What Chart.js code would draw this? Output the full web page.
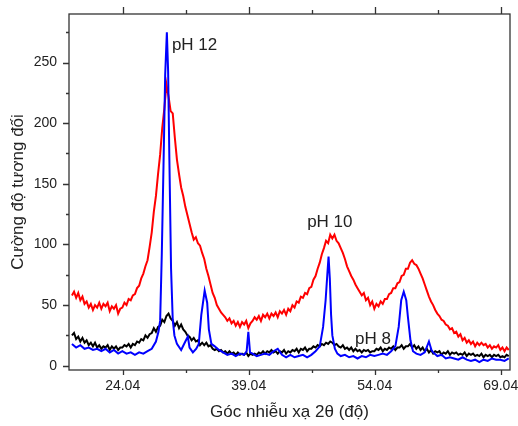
<!DOCTYPE html>
<html>
<head>
<meta charset="utf-8">
<script src="https://cdn.jsdelivr.net/npm/chart.js@4"></script>
<style>
  body { margin: 0; background: #fff; }
</style>
</head>
<body>
<canvas id="xrd" width="518" height="426"></canvas>
<script>
// 2θ grid (0.25° steps) shared by the pH 10 and pH 8 traces
const angles = [
    18, 18.25, 18.5, 18.75, 19, 19.25, 19.5, 19.75, 20, 20.25, 20.5, 20.75,
    21, 21.25, 21.5, 21.75, 22, 22.25, 22.5, 22.75, 23, 23.25, 23.5, 23.75,
    24, 24.25, 24.5, 24.75, 25, 25.25, 25.5, 25.75, 26, 26.25, 26.5, 26.75,
    27, 27.25, 27.5, 27.75, 28, 28.25, 28.5, 28.75, 29, 29.25, 29.5, 29.75,
    30, 30.25, 30.5, 30.75, 31, 31.25, 31.5, 31.75, 32, 32.25, 32.5, 32.75,
    33, 33.25, 33.5, 33.75, 34, 34.25, 34.5, 34.75, 35, 35.25, 35.5, 35.75,
    36, 36.25, 36.5, 36.75, 37, 37.25, 37.5, 37.75, 38, 38.25, 38.5, 38.75,
    39, 39.25, 39.5, 39.75, 40, 40.25, 40.5, 40.75, 41, 41.25, 41.5, 41.75,
    42, 42.25, 42.5, 42.75, 43, 43.25, 43.5, 43.75, 44, 44.25, 44.5, 44.75,
    45, 45.25, 45.5, 45.75, 46, 46.25, 46.5, 46.75, 47, 47.25, 47.5, 47.75,
    48, 48.25, 48.5, 48.75, 49, 49.25, 49.5, 49.75, 50, 50.25, 50.5, 50.75,
    51, 51.25, 51.5, 51.75, 52, 52.25, 52.5, 52.75, 53, 53.25, 53.5, 53.75,
    54, 54.25, 54.5, 54.75, 55, 55.25, 55.5, 55.75, 56, 56.25, 56.5, 56.75,
    57, 57.25, 57.5, 57.75, 58, 58.25, 58.5, 58.75, 59, 59.25, 59.5, 59.75,
    60, 60.25, 60.5, 60.75, 61, 61.25, 61.5, 61.75, 62, 62.25, 62.5, 62.75,
    63, 63.25, 63.5, 63.75, 64, 64.25, 64.5, 64.75, 65, 65.25, 65.5, 65.75,
    66, 66.25, 66.5, 66.75, 67, 67.25, 67.5, 67.75, 68, 68.25, 68.5, 68.75,
    69, 69.25, 69.5, 69.75, 70
];

const ph10 = [
    58, 61, 56, 60, 54, 57, 51, 53, 48, 51, 46, 50,
    48, 52, 47, 51, 49, 52, 45, 49, 47, 50, 43, 47,
    48, 52, 50, 55, 54, 58, 59, 64, 66, 72, 76, 82,
    87, 98, 110, 127, 140, 158, 174, 196, 212, 232, 222, 210,
    208, 188, 170, 158, 147, 140, 131, 124, 117, 110, 104, 106,
    101, 99, 93, 88, 80, 74, 67, 60, 56, 50, 47, 44,
    42, 40, 37, 39, 35, 37, 33, 36, 32, 36, 34, 37,
    31, 35, 37, 40, 38, 41, 37, 42, 40, 43, 39, 43,
    41, 44, 40, 45, 43, 46, 42, 47, 45, 50, 48, 53,
    52, 57, 56, 60, 59, 64, 65, 71, 74, 80, 85, 92,
    97, 103, 101, 108, 105, 108, 103, 101, 97, 93, 88, 82,
    78, 74, 71, 67, 64, 61, 58, 60, 54, 56, 50, 53,
    47, 51, 49, 53, 51, 55, 55, 59, 60, 64, 64, 68,
    69, 74, 75, 80, 80, 85, 87, 84, 83, 80, 76, 72,
    67, 62, 57, 53, 50, 46, 43, 41, 38, 37, 34, 33,
    30, 31, 27, 28, 24, 26, 21, 23, 19, 21, 18, 20,
    16, 19, 17, 19, 17, 18, 15, 17, 14, 16, 15, 17,
    13, 15, 12, 15, 13
];

const ph8 = [
    25, 27, 22, 24, 20, 23, 19, 21, 17, 19, 16, 19,
    15, 17, 14, 16, 15, 17, 13, 16, 14, 16, 13, 15,
    15, 17, 16, 18, 15, 18, 17, 20, 19, 22, 21, 25,
    23, 26, 27, 31, 28, 32, 33, 38, 36, 41, 43, 39,
    37, 33, 36, 31, 34, 30, 28, 25, 24, 21, 23, 20,
    21, 17, 19, 17, 19, 16, 17, 14, 13, 14, 12, 13,
    11, 12, 10, 12, 10, 11, 9, 11, 9, 10, 9, 11,
    8, 10, 9, 10, 9, 11, 10, 12, 10, 12, 11, 13,
    11, 12, 10, 12, 11, 13, 10, 12, 11, 13, 12, 14,
    11, 14, 13, 15, 12, 14, 14, 16, 15, 17, 16, 18,
    17, 19, 18, 20, 19, 17, 18, 16, 15, 17, 14, 15,
    13, 15, 12, 14, 12, 13, 11, 13, 12, 13, 11, 12,
    12, 14, 13, 15, 12, 14, 13, 15, 14, 16, 13, 15,
    15, 17, 14, 16, 16, 18, 15, 17, 14, 16, 13, 15,
    12, 14, 11, 13, 10, 12, 11, 12, 9, 11, 10, 12,
    9, 11, 10, 11, 9, 10, 9, 11, 8, 10, 9, 10,
    8, 9, 8, 10, 7, 9, 8, 9, 7, 9, 8, 9,
    7, 8, 7, 9, 8
];

// pH 12 has sharp peaks, so it keeps its own denser angle list
const ph12Angles = [18, 18.5, 19, 19.5, 20, 20.5, 21, 21.5, 22, 22.5, 23, 23.5, 24, 24.5,
    25, 25.5, 26, 26.5, 27, 27.5, 28, 28.3, 28.5, 28.7, 28.9, 29.1, 29.3, 29.45, 29.6, 29.8,
    30, 30.2, 30.5, 31, 31.5, 31.8, 32, 32.4, 32.8, 33.1, 33.4, 33.8, 34.1, 34.3, 34.6, 35,
    35.5, 36, 36.5, 37, 37.5, 38, 38.5, 38.8, 39, 39.2, 39.5, 40, 40.5, 41, 41.5, 42, 42.5,
    43, 43.5, 44, 44.5, 45, 45.5, 46, 46.5, 47, 47.5, 47.9, 48.2, 48.4, 48.55, 48.7, 48.85,
    49, 49.3, 49.6, 50, 50.5, 51, 51.5, 52, 52.5, 53, 53.5, 54, 54.5, 55, 55.5, 56, 56.5,
    56.9, 57.2, 57.5, 57.8, 58, 58.3, 58.6, 59, 59.5, 60, 60.5, 60.8, 61, 61.5, 62, 62.5,
    63, 63.5, 64, 64.5, 65, 65.5, 66, 66.5, 67, 67.5, 68, 68.5, 69, 69.5, 70];

const ph12 = [18, 15, 17, 14, 15, 13, 14, 12, 14, 11, 13, 10, 12, 10,
    11, 9, 11, 10, 12, 14, 20, 28, 37, 93, 165, 240, 275, 243, 170, 80,
    38, 25, 18, 13, 20, 24, 15, 11, 14, 18, 42, 62, 52, 30, 18, 16,
    13, 11, 9, 10, 8, 10, 9, 12, 28, 11, 10, 8, 9, 10, 9, 12, 14,
    9, 7, 9, 7, 8, 9, 7, 9, 12, 16, 32, 54, 75, 90, 72, 42,
    25, 14, 10, 8, 9, 7, 8, 6, 8, 7, 9, 8, 9, 10, 9, 12, 16,
    32, 54, 61, 54, 40, 21, 12, 10, 9, 11, 20, 13, 11, 8, 9, 6,
    7, 6, 5, 7, 5, 4, 5, 3, 5, 4, 6, 5, 5, 4, 6];

const xMajor = [24.04, 39.04, 54.04, 69.04];
const xMinor = [31.54, 46.54, 61.54];
const yMajor = [0, 50, 100, 150, 200, 250];
const yMinor = [25, 75, 125, 175, 225, 275];

const curveLabels = [
    { text: 'pH 12', x: 29.9, y: 264 },
    { text: 'pH 10', x: 46.0, y: 118 },
    { text: 'pH 8', x: 51.7, y: 22 }
];

const fontFamily = '"Liberation Sans", Arial, sans-serif';

function toPoints(xs, ys) {
    return xs.map((x, i) => ({ x: x, y: ys[i] }));
}

// frame, outward ticks and the curve labels
const framePlugin = {
    id: 'frame',
    afterDraw(chart) {
        const ctx = chart.ctx;
        const a = chart.chartArea;
        const xs = chart.scales.x, ys = chart.scales.y;
        ctx.save();
        ctx.strokeStyle = '#333';
        ctx.lineWidth = 1.3;
        ctx.strokeRect(a.left, a.top, a.right - a.left, a.bottom - a.top);

        ctx.beginPath();
        xMajor.forEach(v => {
            const p = Math.round(xs.getPixelForValue(v)) + 0.5;
            ctx.moveTo(p, a.bottom); ctx.lineTo(p, a.bottom + 5);
            ctx.moveTo(p, a.top); ctx.lineTo(p, a.top - 7);
        });
        xMinor.forEach(v => {
            const p = Math.round(xs.getPixelForValue(v)) + 0.5;
            ctx.moveTo(p, a.bottom); ctx.lineTo(p, a.bottom + 3);
            ctx.moveTo(p, a.top); ctx.lineTo(p, a.top - 4);
        });
        yMajor.forEach(v => {
            const p = Math.round(ys.getPixelForValue(v)) + 0.5;
            ctx.moveTo(a.left, p); ctx.lineTo(a.left - 6, p);
        });
        yMinor.forEach(v => {
            const p = Math.round(ys.getPixelForValue(v)) + 0.5;
            ctx.moveTo(a.left, p); ctx.lineTo(a.left - 3, p);
        });
        ctx.stroke();

        ctx.fillStyle = '#222';
        ctx.font = '17px ' + fontFamily;
        ctx.textAlign = 'left';
        ctx.textBaseline = 'middle';
        curveLabels.forEach(l => {
            ctx.fillText(l.text, xs.getPixelForValue(l.x), ys.getPixelForValue(l.y));
        });
        ctx.restore();
    }
};

new Chart(document.getElementById('xrd').getContext('2d'), {
    type: 'line',
    data: {
        datasets: [
            { label: 'pH 12', data: toPoints(ph12Angles, ph12), borderColor: '#0000ff' },
            { label: 'pH 8', data: toPoints(angles, ph8), borderColor: '#000000' },
            { label: 'pH 10', data: toPoints(angles, ph10), borderColor: '#ff0000' }
        ]
    },
    options: {
        responsive: false,
        animation: false,
        devicePixelRatio: 1,
        datasets: {
            line: { borderWidth: 2, pointRadius: 0, tension: 0, fill: false }
        },
        layout: { padding: { left: 0, right: 8, top: 14, bottom: 0 } },
        plugins: { legend: { display: false }, tooltip: { enabled: false } },
        scales: {
            x: {
                type: 'linear',
                min: 17.65,
                max: 70.15,
                grid: { display: false, drawTicks: false },
                border: { display: false },
                afterBuildTicks: s => { s.ticks = xMajor.map(v => ({ value: v })); },
                afterFit: s => { s.height = 56; s.paddingLeft = 0; s.paddingRight = 0; },
                ticks: {
                    padding: 8,
                    color: '#222',
                    font: { family: fontFamily, size: 14 },
                    maxRotation: 0,
                    callback: v => v.toFixed(2)
                },
                title: {
                    display: true,
                    text: 'Góc nhiễu xạ 2θ (độ)',
                    color: '#222',
                    font: { family: fontFamily, size: 17 },
                    padding: { top: 0, bottom: 3 }
                }
            },
            y: {
                min: -3.5,
                max: 290,
                grid: { display: false, drawTicks: false },
                border: { display: false },
                afterBuildTicks: s => { s.ticks = yMajor.map(v => ({ value: v })); },
                afterFit: s => { s.width = 69; s.paddingTop = 0; s.paddingBottom = 0; },
                ticks: {
                    padding: 12,
                    color: '#222',
                    font: { family: fontFamily, size: 14 }
                },
                title: {
                    display: true,
                    text: 'Cường độ tương đối',
                    color: '#222',
                    font: { family: fontFamily, size: 17 },
                    padding: { top: 8, bottom: 0 }
                }
            }
        }
    },
    plugins: [framePlugin]
});
</script>
</body>
</html>
